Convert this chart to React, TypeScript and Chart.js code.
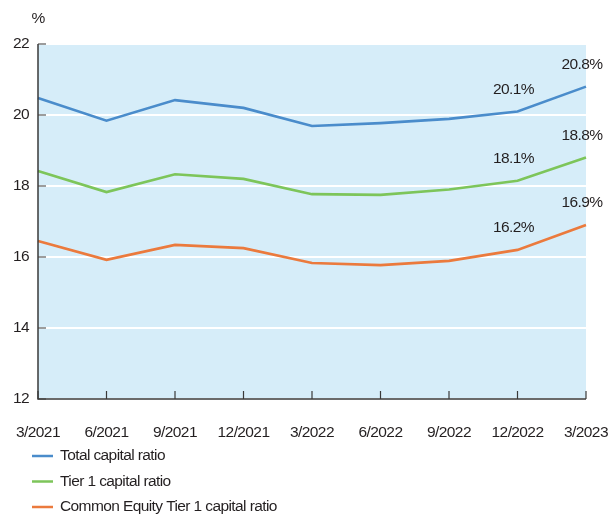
import React, { useEffect, useRef } from "react";
import { Chart, registerables } from "chart.js";

Chart.register(...registerables);

const categories = ["3/2021", "6/2021", "9/2021", "12/2021", "3/2022", "6/2022", "9/2022", "12/2022", "3/2023"];
const totalCapital = [20.48, 19.84, 20.42, 20.2, 19.69, 19.77, 19.89, 20.1, 20.8];
const tier1Capital = [18.42, 17.83, 18.33, 18.2, 17.77, 17.75, 17.9, 18.15, 18.8];
const cet1Capital = [16.45, 15.92, 16.34, 16.25, 15.83, 15.77, 15.89, 16.2, 16.9];
const seriesNames = ["Total capital ratio", "Tier 1 capital ratio", "Common Equity Tier 1 capital ratio"];
const seriesColors = ["#4a8ccb", "#7dc55a", "#eb7a3d"];
const labelledIndices = [7, 8];
const yTicks = [12, 14, 16, 18, 20, 22];

const FONT = "'Liberation Sans', Arial, Helvetica, sans-serif";
const TEXT = "#231f20";
const FS = 15.5;
const SPACING = "-0.6px";

const decoPlugin = {
  id: "deco",
  beforeDraw(chart: any) {
    const { ctx, chartArea } = chart;
    ctx.letterSpacing = SPACING;
    ctx.save();
    ctx.fillStyle = "#d6edf9";
    ctx.fillRect(chartArea.left, chartArea.top, chartArea.right - chartArea.left, chartArea.bottom - chartArea.top);
    ctx.restore();
  },
  afterDraw(chart: any) {
    const { ctx, chartArea, scales } = chart;
    const x = scales.x;
    const y = scales.y;
    ctx.save();
    ctx.letterSpacing = SPACING;
    // axes
    ctx.strokeStyle = "#3a3a3a";
    ctx.lineWidth = 1.5;
    ctx.beginPath();
    ctx.moveTo(chartArea.left, chartArea.top);
    ctx.lineTo(chartArea.left, chartArea.bottom);
    ctx.lineTo(chartArea.right, chartArea.bottom);
    ctx.stroke();
    // inward ticks
    ctx.lineWidth = 1.2;
    ctx.beginPath();
    categories.forEach((_, i) => {
      const px = x.getPixelForValue(i);
      ctx.moveTo(px, chartArea.bottom);
      ctx.lineTo(px, chartArea.bottom - 8);
    });
    yTicks.forEach((v) => {
      const py = y.getPixelForValue(v);
      ctx.moveTo(chartArea.left, py);
      ctx.lineTo(chartArea.left + 8, py);
    });
    ctx.stroke();
    // unit
    ctx.fillStyle = TEXT;
    ctx.font = `${FS}px ${FONT}`;
    ctx.textAlign = "center";
    ctx.textBaseline = "middle";
    ctx.fillText("%", chartArea.left, 19);
    // data labels
    chart.data.datasets.forEach((ds: any, di: number) => {
      const meta = chart.getDatasetMeta(di);
      labelledIndices.forEach((idx) => {
        const pt = meta.data[idx];
        const val = ds.data[idx];
        ctx.fillText(`${val.toFixed(1)}%`, pt.x - 4, pt.y - 22);
      });
    });
    // legend
    ctx.textAlign = "left";
    chart.data.datasets.forEach((ds: any, di: number) => {
      const ly = 456 + di * 25.5;
      ctx.strokeStyle = ds.borderColor;
      ctx.lineWidth = 2.5;
      ctx.beginPath();
      ctx.moveTo(32, ly);
      ctx.lineTo(53, ly);
      ctx.stroke();
      ctx.fillStyle = TEXT;
      ctx.fillText(ds.label, 60, ly);
    });
    ctx.restore();
  },
};

export default function App() {
  const ref = useRef<HTMLCanvasElement>(null);
  useEffect(() => {
    if (!ref.current) return;
    const values = [totalCapital, tier1Capital, cet1Capital];
    const chart = new Chart(ref.current, {
      type: "line",
      data: {
        labels: categories,
        datasets: values.map((d, i) => ({
          label: seriesNames[i],
          data: d,
          borderColor: seriesColors[i],
          backgroundColor: seriesColors[i],
          borderWidth: 2.6,
          pointRadius: 0,
          tension: 0,
        })),
      },
      options: {
        animation: false,
        responsive: false,
        maintainAspectRatio: false,
        layout: { padding: { left: 0, top: 44, right: 30, bottom: 76 } },
        plugins: { legend: { display: false }, tooltip: { enabled: false } },
        scales: {
          x: {
            offset: false,
            grid: { display: false, drawTicks: false },
            border: { display: false },
            afterFit: (s: any) => { s.height = 40; s.paddingLeft = 0; s.paddingRight = 0; },
            ticks: {
              color: TEXT,
              font: { family: FONT, size: FS },
              padding: 24,
              maxRotation: 0,
              autoSkip: false,
            },
          },
          y: {
            min: 12,
            max: 22,
            afterFit: (s: any) => { s.width = 38; s.paddingTop = 0; s.paddingBottom = 0; },
            afterBuildTicks: (s: any) => { s.ticks = yTicks.map((v) => ({ value: v })); },
            grid: { color: "#ffffff", lineWidth: 2, drawTicks: false },
            border: { display: false },
            ticks: {
              color: TEXT,
              font: { family: FONT, size: FS },
              padding: 9,
            },
          },
        },
      },
      plugins: [decoPlugin],
    });
    return () => chart.destroy();
  }, []);
  return (
    <div style={{ position: "fixed", left: 0, top: 0, width: 616, height: 515, background: "#fff" }}>
      <canvas ref={ref} width={616} height={515} style={{ width: 616, height: 515 }} />
    </div>
  );
}
